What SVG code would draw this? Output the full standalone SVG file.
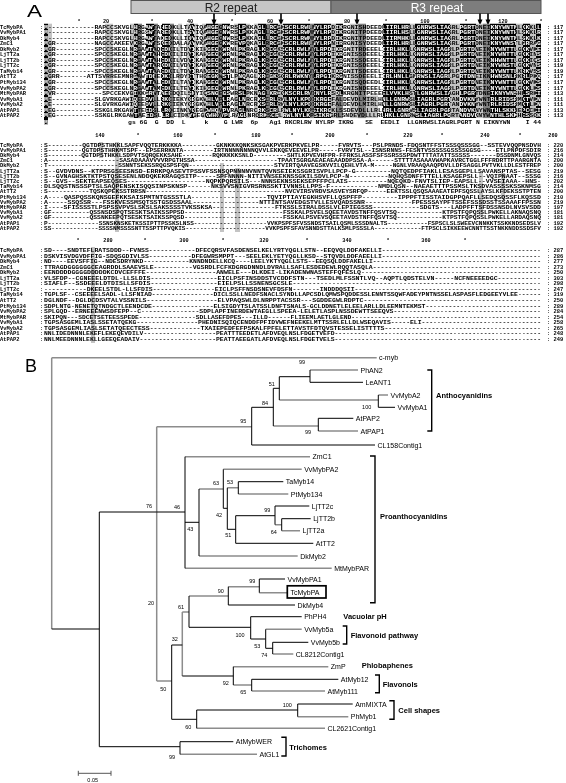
<svg xmlns="http://www.w3.org/2000/svg" xmlns:xlink="http://www.w3.org/1999/xlink" width="566" height="783" viewBox="0 0 566 783">
<style>
.nm{font-family:'Liberation Mono',monospace;font-weight:bold;font-size:5.4px;fill:#000}
.sq{font-family:'Liberation Mono',monospace;font-weight:bold;font-size:5.6px}
.sq2{font-family:'Liberation Mono',monospace;font-weight:bold;font-size:5.2px}
.ru{font-family:'Liberation Mono',monospace;font-weight:bold;font-size:5.2px;fill:#000;text-anchor:middle}
.kb{fill:#000}.dg{fill:#7f7f7f}.lg{fill:#c4c4c4}
.k{stroke:#000;fill:none;stroke-width:1}
.g{stroke:#8c8c8c;fill:none;stroke-width:1.5}
.br{stroke:#000;fill:none;stroke-width:1.4}
.lf{font-family:'Liberation Sans',Arial,sans-serif;font-size:7px;fill:#000}
.bs{font-family:'Liberation Sans',Arial,sans-serif;font-size:5.5px;fill:#000;text-anchor:middle}
.gp{font-family:'Liberation Sans',Arial,sans-serif;font-size:7.5px;font-weight:bold;fill:#000}
.pl{font-family:'Liberation Sans',Arial,sans-serif;fill:#000}
#all{filter:grayscale(100%)}
</style>
<defs>
<clipPath id="k1">
<rect x="44" y="23.7" width="4" height="100.5"/>
<rect x="134" y="23.7" width="4" height="94.4"/>
<rect x="146" y="23.7" width="8" height="94.4"/>
<rect x="162" y="23.7" width="8" height="94.4"/>
<rect x="190" y="23.7" width="4" height="94.4"/>
<rect x="206" y="23.7" width="12" height="94.4"/>
<rect x="222" y="23.7" width="8" height="94.4"/>
<rect x="238" y="23.7" width="8" height="94.4"/>
<rect x="258" y="23.7" width="8" height="94.4"/>
<rect x="270" y="23.7" width="8" height="94.4"/>
<rect x="283" y="23.7" width="27" height="94.4"/>
<rect x="314" y="23.7" width="17" height="94.4"/>
<rect x="336" y="23.7" width="7" height="72"/>
<rect x="383" y="23.7" width="27" height="94.4"/>
<rect x="415" y="23.7" width="35" height="94.4"/>
<rect x="460" y="23.7" width="16" height="94.4"/>
<rect x="490" y="23.7" width="26" height="94.4"/>
<rect x="523" y="23.7" width="7" height="94.4"/>
<rect x="536" y="23.7" width="5" height="94.4"/>
</clipPath>
<g id="s1" class="sq">
<text x="44" y="28.5" textLength="497" lengthAdjust="spacingAndGlyphs">M------------RAPCCSKVGLHRGAWTAHEDKLLTAYIQAHGEGNWRSLPKKAGLLRCGKSCRLRWLNYLRPDIKRGNISHDEEDLIIRLHRLLGNRWSLIAGRLPGRTDNEIKNYWNTNLKKKLL</text>
<text x="44" y="34.05" textLength="497" lengthAdjust="spacingAndGlyphs">M------------RAPCCSKVGLHRGSWTAREDKLLTSYIQAHGEGNWRSLPKKAGLLRCGKSCRLRWMNYLRPDIKRGNITPDEEDLIIRLHSLLGNRWSLIAGRLPGRTDNEIKNYWNTHLSKKLR</text>
<text x="44" y="39.6" textLength="497" lengthAdjust="spacingAndGlyphs">M------------RAPCCSKVGLHRGAWTAQEDKLLIDYIQAHGEGNWRSLPKKAGLLRCGKSCRLRWMNYLRPDIKRGNITPDEEDLIIRMHKLLGNRWSLIAGRLPGRTDNEIKNYWNTNLSKKLK</text>
<text x="44" y="45.15" textLength="497" lengthAdjust="spacingAndGlyphs">MGR----------NAGCCAKEEVKRGAWTSKEDDALAAYVKAHGEGKWREVPQKAGLRRCGKSCRLRWLNYLRPNIRRGNISYDEEDLIIRLHRLLGNRWSLIAGRLPGRTDNEIKNYWNSTLGRRAG</text>
<text x="44" y="50.7" textLength="497" lengthAdjust="spacingAndGlyphs">MGR----------SPCCSKEGLNRGAWTAQEDKILTDYIKIHGEGKWRNLPKRAGLKRCGKSCRLRWLNYLRPDIKRGNITRDEEELIIRLHKLLGNRWSLIAGRLPGRTDNEIKNYWNTTLGKKVKE</text>
<text x="44" y="56.25" textLength="497" lengthAdjust="spacingAndGlyphs">MGR----------SPCCSKEGLNRGAWTAHEDKILIDYIKAHGEGKWRNLPKRAGLKRCGKSCRLRWLNYLRPDIKRGNISSDEEELIIRLHKLLGNRWSLIAGRLPGRTDNEIKNYWNTTLGKKINS</text>
<text x="44" y="61.8" textLength="497" lengthAdjust="spacingAndGlyphs">MGR----------SPCCSKEGLNRGAWTAHEDKILVDYIKAHGEGKWRNLPKRAGLKRCGKSCRLRWLNYLRPDIKRGNISSDEEELIIRLHKLLGNRWSLIAGRLPGRTDNEIKNHWNTTLGKKIQS</text>
<text x="44" y="67.35" textLength="497" lengthAdjust="spacingAndGlyphs">MGR----------SPCCSKEGLNRGAWTARKDKILVDYIKAHGEGKWRNLPKRAGLKRCGKSCRLRWLNYLRPDIKRGNISSDEEELIIRLHKLLGNRWSLIAGRLPGRTDNEIKNYWNSTLGKKVNS</text>
<text x="44" y="72.9" textLength="497" lengthAdjust="spacingAndGlyphs">MGR----------SPCCSKEGLNRGAWTAAEDKILTDYIRANGEGKWRNLPKRAGLKRCGKSCRLRWLNYLRPDIKRGNITSDEEELIIRLHKLLGNRWSLIAGRLPGRTDNEIKNYWNTTLKRKVSS</text>
<text x="44" y="78.45" textLength="497" lengthAdjust="spacingAndGlyphs">MGRR-------ATTSVRREEMNRGAWTDHEDKILRDYITTHGEGKWSTLPNQAGLKRCGKSCRLRWKNYLRPGIKRGNISSDEEELIIRLHNLLGNRWSLIAGRLPGRTDNEIKNHWNSNLRKRLPKQ</text>
<text x="44" y="84" textLength="497" lengthAdjust="spacingAndGlyphs">MGR----------SPCCSKEGLNRGAWTALEDKILTAYIKAHGEGKWRNLPKRAGLKRCGKSCRLRWLNYLRPDIKRGNISQDEEDLIIRLHKLLGNRWSLIAGRLPGRTDNEIKNYWNTTLGKKVKS</text>
<text x="44" y="89.55" textLength="497" lengthAdjust="spacingAndGlyphs">MGR----------SPCCSKEGLNRGAWTAMEDKILTEYIKIHGEGKWRNLPKRAGLKRCGKSCRLRWLNYLRPDIKRGNISNDEEELIIRLHKLLGNRWSLIAGRLPGRTDNEIKNYWNTTLGKKLKS</text>
<text x="44" y="95.1" textLength="497" lengthAdjust="spacingAndGlyphs">MVR------------SPCCEKVGIKKGRWTAEEDQILSNYIQSNGEGSWRSLPKNAGLKRCGKSCRLRWINYLRSDLKRGNITPEEEELVVKLHSTLGNRWSLIAGHLPGRTDNEIKNYWNSHLSRKI</text>
<text x="44" y="100.65" textLength="497" lengthAdjust="spacingAndGlyphs">ME-----------SLGVRKGAWIQEEDVLLRKCIEKYGEGKWHLVPLRAGLNRCRKSCRLRWLNYLKPDIKRGEFALDEVDLMIRLHNLLGNRWSLIAGRLPGRTANDVKNYWNTRLRIDSRMKTVKN</text>
<text x="44" y="106.2" textLength="497" lengthAdjust="spacingAndGlyphs">ME-----------SLGVRKGAWIQEEDVLLRKCIEKYGEGKWHLVPLRAGLNRCRKSCRLRWLNYLKPDIKRGEFALDEVDLMIRLHNLLGNRWSLIAGRLPGRTANDVKNYWNTRLRIDSRMKTLKN</text>
<text x="44" y="111.75" textLength="497" lengthAdjust="spacingAndGlyphs">MEG----------SSKGLRKGAWTTEEDSLLRQCINKYGEGKWHQVPVRAGLNRCRKSCRLRWLNYLKPSIKRGKLSSDEVDLLLRLHRLLGNRWSLIAGRLPGRTANDVKNYWNTHLSKKHEPCCKI</text>
<text x="44" y="117.3" textLength="497" lengthAdjust="spacingAndGlyphs">MEG----------SSKGLRKGAWTAEEDSLLRLCIDKYGEGKWHQVPLRAGLNRCRKSCRLRWLNYLKPSIKRGRLSNDEVDLLLRLHKLLGNRWSLIAGRLPGRTANDVKNYWNTHLSKKHESSCK</text>
<text x="44" y="123.5" textLength="497" lengthAdjust="spacingAndGlyphs" xml:space="preserve">M                     gs 6G  G  DD  L     k    G LWR  6p   Ag1 RKCRLRW NYLRP IKRG   SE  EEDLI  LLGNRWSLIAGRLPGRT N EIKNYWN    I 44</text>
</g>
</defs>

<g id="all">
<rect x="0" y="0" width="566" height="783" fill="#fff"/>
<g id="panelA">
<text class="pl" x="27" y="17" font-size="17" textLength="15" lengthAdjust="spacingAndGlyphs">A</text>
<g id="r2box"><rect x="131" y="0.5" width="200" height="13" fill="#c6c6c6" stroke="#555" stroke-width="1"/><text class="pl" x="231" y="11.5" font-size="12" style="fill:#222" text-anchor="middle">R2 repeat</text></g>
<g id="r3box"><rect x="331" y="0.5" width="210" height="13" fill="#7d7d7d" stroke="#555" stroke-width="1"/><text class="pl" x="437" y="11.5" font-size="12" style="fill:#fff" text-anchor="middle">R3 repeat</text></g>
<g id="arrows" fill="#000" stroke="#000">
<path d="M214 13.5V20M281 13.5V20M357 13.5V20M480 13.5V20M488 13.5V20" stroke-width="1.6"/>
<path d="M211.5 19.5H216.5L214 25.5ZM278.5 19.5H283.5L281 25.5ZM354.5 19.5H359.5L357 25.5ZM477.5 19.5H482.5L480 25.5ZM485.5 19.5H490.5L488 25.5Z" stroke="none"/>
</g>

<g id="block1">
<g class="ru">
<text x="79" y="22.8">*</text><text x="106" y="22.8">20</text><text x="152" y="22.8">*</text><text x="190" y="22.8">40</text><text x="232" y="22.8">*</text><text x="270" y="22.8">60</text><text x="309" y="22.8">*</text><text x="347" y="22.8">80</text><text x="386" y="22.8">*</text><text x="425" y="22.8">100</text><text x="466" y="22.8">*</text><text x="503" y="22.8">120</text><text x="541" y="22.8">*</text>
</g>
<g id="shade1">
<rect class="lg" x="48" y="23.7" width="4" height="94.4"/>
<rect class="lg" x="105" y="23.7" width="8" height="66"/>
<rect class="lg" x="130" y="23.7" width="4" height="94.4"/>
<rect class="dg" x="138" y="23.7" width="4" height="94.4"/>
<rect class="dg" x="154" y="23.7" width="4" height="94.4"/>
<rect class="dg" x="170" y="23.7" width="4" height="94.4"/>
<rect class="lg" x="178" y="23.7" width="4" height="94.4"/>
<rect class="lg" x="186" y="23.7" width="4" height="94.4"/>
<rect class="lg" x="194" y="23.7" width="4" height="94.4"/>
<rect class="lg" x="202" y="23.7" width="4" height="94.4"/>
<rect class="dg" x="218" y="23.7" width="4" height="94.4"/>
<rect class="lg" x="234" y="23.7" width="4" height="94.4"/>
<rect class="lg" x="246" y="23.7" width="4" height="94.4"/>
<rect class="lg" x="254" y="23.7" width="4" height="94.4"/>
<rect class="dg" x="266" y="23.7" width="4" height="94.4"/>
<rect class="lg" x="278" y="23.7" width="5" height="94.4"/>
<rect class="dg" x="310" y="23.7" width="4" height="94.4"/>
<rect class="lg" x="331" y="23.7" width="5" height="94.4"/>
<rect class="dg" x="336" y="95.5" width="7" height="22.6"/>
<rect class="lg" x="350" y="23.7" width="8" height="94.4"/>
<rect class="dg" x="358" y="23.7" width="8" height="94.4"/>
<rect class="lg" x="366" y="95.5" width="12" height="22.6"/>
<rect class="lg" x="410" y="23.7" width="5" height="94.4"/>
<rect class="lg" x="450" y="23.7" width="10" height="94.4"/>
<rect class="lg" x="476" y="23.7" width="7" height="94.4"/>
<rect class="dg" x="483" y="23.7" width="7" height="94.4"/>
<rect class="lg" x="516" y="23.7" width="7" height="94.4"/>
<rect class="lg" x="530" y="23.7" width="6" height="94.4"/>
<rect x="40" y="20" width="505" height="106" fill="#000" clip-path="url(#k1)"/>
</g>
<use xlink:href="#s1" href="#s1" fill="#000"/>
<use xlink:href="#s1" href="#s1" fill="#fff" clip-path="url(#k1)"/>
<g class="nm">
<text x="0" y="28.5">TcMybPA<tspan x="40">:</tspan><tspan x="547">: 117</tspan></text>
<text x="0" y="34.05">VvMybPA1<tspan x="40">:</tspan><tspan x="547">: 117</tspan></text>
<text x="0" y="39.6">DkMyb4<tspan x="40">:</tspan><tspan x="547">: 117</tspan></text>
<text x="0" y="45.15">ZmC1<tspan x="40">:</tspan><tspan x="547">: 117</tspan></text>
<text x="0" y="50.7">DkMyb2<tspan x="40">:</tspan><tspan x="547">: 117</tspan></text>
<text x="0" y="56.25">LjTT2a<tspan x="40">:</tspan><tspan x="547">: 117</tspan></text>
<text x="0" y="61.8">LjTT2b<tspan x="40">:</tspan><tspan x="547">: 117</tspan></text>
<text x="0" y="67.35">LjTT2c<tspan x="40">:</tspan><tspan x="547">: 119</tspan></text>
<text x="0" y="72.9">TaMyb14<tspan x="40">:</tspan><tspan x="547">: 119</tspan></text>
<text x="0" y="78.45">AtTT2<tspan x="40">:</tspan><tspan x="547">: 117</tspan></text>
<text x="0" y="84">PtMyb134<tspan x="40">:</tspan><tspan x="547">: 117</tspan></text>
<text x="0" y="89.55">VvMybPA2<tspan x="40">:</tspan><tspan x="547">: 117</tspan></text>
<text x="0" y="95.1">MtMybPAR<tspan x="40">:</tspan><tspan x="547">: 113</tspan></text>
<text x="0" y="100.65">VvMybA1<tspan x="40">:</tspan><tspan x="547">: 111</tspan></text>
<text x="0" y="106.2">VvMybA2<tspan x="40">:</tspan><tspan x="547">: 111</tspan></text>
<text x="0" y="111.75">AtPAP1<tspan x="40">:</tspan><tspan x="547">: 113</tspan></text>
<text x="0" y="117.3">AtPAP2<tspan x="40">:</tspan><tspan x="547">: 113</tspan></text>
</g>
</g>

<g id="block2">
<g class="ru">
<text x="100" y="136.5">140</text><text x="138" y="136.5">*</text><text x="178" y="136.5">160</text><text x="215" y="136.5">*</text><text x="256" y="136.5">180</text><text x="292" y="136.5">*</text><text x="330" y="136.5">200</text><text x="367" y="136.5">*</text><text x="408" y="136.5">220</text><text x="442" y="136.5">*</text><text x="485" y="136.5">240</text><text x="520" y="136.5">*</text><text x="553" y="136.5">260</text>
</g>
<g id="shade2">
<rect class="lg" x="99" y="142" width="4" height="16"/>
<rect class="lg" x="115" y="142" width="4" height="90"/>
<rect class="lg" x="220" y="163" width="4" height="69"/>
<rect class="lg" x="235" y="168" width="5" height="64"/>
<rect class="lg" x="479" y="173" width="4" height="42"/>
<rect class="lg" x="501" y="173" width="4" height="26"/>
</g>
<g class="sq2" fill="#000">
<text x="44" y="146.5" textLength="497" lengthAdjust="spacingAndGlyphs">S---------QGTDPSTHKKLSAPFVQQTERKKKKA---------GKNKKKQNKSKSGAKPVERKPKVELPR-----FVRVTS---PSLPRNDS-FDQSNTFFSTSSSQSSSGG--SSTEVVQQPNSDVH</text>
<text x="44" y="151.7" textLength="497" lengthAdjust="spacingAndGlyphs">S---------QGTDPSTHRKMTSPF--EPSERRKNTA--------IRTNNNNNNNNQVVLEKKQEVEEVELPR-----FVRVTSL--ISNSRNNS-FESNTVSSSSSGSSSSGGSG----ETLPNPDFSDIR</text>
<text x="44" y="156.9" textLength="497" lengthAdjust="spacingAndGlyphs">S---------QGTDPSTHKKLSDPVTSQRQEKKSAHE--------RQKKKKKSNLD---------SHTLKPVEVHFPR-FFRKSLASSFSFSSRSSSPDWTTTTATATTSSSSS-------DSSDNMLGNVQS</text>
<text x="44" y="162.1" textLength="497" lengthAdjust="spacingAndGlyphs">A-------------------SASADAAAVVVVRPGTHSSA----------------------TPAATSGRGAEAEAEAADDPSSA-A------STTTTASAAAVWAPKAVRCTGGLFFFRDRTTPAARGNTA</text>
<text x="44" y="167.3" textLength="497" lengthAdjust="spacingAndGlyphs">T-------------------SSNNTSEKSSRQGSPSFQN-----------------------STVIRTQAAVEGSKVVILQEHLVTA-M-----NGNLVRAAQAAQPDVLLDFSAGGLPVTVKLLDLESTFREP</text>
<text x="44" y="172.5" textLength="497" lengthAdjust="spacingAndGlyphs">S--GVDVDNS--KTPRSGSEESNSD-ERRKPQASEVTPSSVFSSNSQPNNNNVNNTQVNSEIEKSSGRISVPLLPCP-G---------NQTQEDPFIAKLLESASGEPLLSAVANSPTAS--SESG</text>
<text x="44" y="177.7" textLength="497" lengthAdjust="spacingAndGlyphs">S--GVNAGHSKTKTPSTQSESENLNDDQKEKRAGQSITP-----SPFNNNN-NITIVNSEEKNSSGKILSDVLPCP-N----------NQHQSDNFFTTELLKSAGEPSLL--VQIPNAAT--SSSG</text>
<text x="44" y="182.9" textLength="497" lengthAdjust="spacingAndGlyphs">S--GVS--SEKTEAPSEQSES--------------------NQPKPQRSILS---NNNSEKNSSEKSEPFFPCLAIS----------NQEQKD-FNVTSLIEP-EAPSLL--VVSEIAAA--HNS-</text>
<text x="44" y="188.1" textLength="497" lengthAdjust="spacingAndGlyphs">DLSQQSTNSSSPTSLSAQPENSKISQQSINPSKNSP------NKSVVSNIGVRSRNSSKTIVNNSLLPPS-F------------NMDLQSN--NAEAETTTPSSMSLTKSDVASSSSKSSKNMSG</text>
<text x="44" y="193.3" textLength="497" lengthAdjust="spacingAndGlyphs">S-----------TQSKQPEKSSTRRSN-------------------------------------NVCVIRSVRDVSASVEYSRFQP-----EEKTSSLQSQSAAAEATEPFSQSSLAYSLKFDEKSSTPTEN</text>
<text x="44" y="198.5" textLength="497" lengthAdjust="spacingAndGlyphs">A----QASPQSSKQNSGEFKKSAISPMTNTGSSSTLA-------------------TQVIPTIAYEGKHSVFLLQSPFFP---------IPPPFTISSTAIDGPPQAFLLSEDQSQSSFLKQSSD</text>
<text x="44" y="203.7" textLength="497" lengthAdjust="spacingAndGlyphs">A-----SSQSSR---FSSKVESSMSQTSSTGSDSSAAL-----------------NTTINTSAVEDGSTVLLESVQADSSNR------------FPESSSAYPFTSSEFSSSDSSTSSAAAFFPSSN</text>
<text x="44" y="208.9" textLength="497" lengthAdjust="spacingAndGlyphs">I----SFISSSSTLPSPSSVPVSLSKSLSAKSSSSTVKSSKSA----------------FTKSSLSIRALDSSLVLEPIEGSSS------------SDGTS---LADPFFTSFDSSNSDLNVSVSDD</text>
<text x="44" y="214.1" textLength="497" lengthAdjust="spacingAndGlyphs">GF----------QSSNSDSPQTSESKTSAIKSSPPSD--------------------------FSSKALPSVELSQEETAVDSTNFFQSVTSQ------------KTPSTFQPQSSLPWKELLAKNAQSNQ</text>
<text x="44" y="219.3" textLength="497" lengthAdjust="spacingAndGlyphs">GF----------QSSNKEEPQTSESKTSAIKSSPQSD--------------------------FSSKALPSVEVSQEETAVDSTNFFQSVTSQ------------KTPSTFQPQSSLPWKELLARDAQSNQ</text>
<text x="44" y="224.5" textLength="497" lengthAdjust="spacingAndGlyphs">P--------------SSNSKNSKETKSSIPTTPSSKSLNSS--------------------VVKPSPFSFVSSNDSTSAILQSMLSSSDNALTS-----------FSPSCLSLSWEEVCNNKKTSSKKNDSEDSLV</text>
<text x="44" y="229.7" textLength="497" lengthAdjust="spacingAndGlyphs">SS-------------SSSSNMSSSSNTTSSPTTPVQKIS----------------------VVKPSPFSFAVSNNDSTTALKSMLPSSSLA-------------FTPSCLSIKKEEWCNNTTSSTNKKNDDSSDSFV</text>
</g>
<g class="nm">
<text x="0" y="146.5">TcMybPA<tspan x="40">:</tspan><tspan x="547">: 220</tspan></text>
<text x="0" y="151.7">VvMybPA1<tspan x="40">:</tspan><tspan x="547">: 216</tspan></text>
<text x="0" y="156.9">DkMyb4<tspan x="40">:</tspan><tspan x="547">: 214</tspan></text>
<text x="0" y="162.1">ZmC1<tspan x="40">:</tspan><tspan x="547">: 200</tspan></text>
<text x="0" y="167.3">DkMyb2<tspan x="40">:</tspan><tspan x="547">: 200</tspan></text>
<text x="0" y="172.5">LjTT2a<tspan x="40">:</tspan><tspan x="547">: 219</tspan></text>
<text x="0" y="177.7">LjTT2b<tspan x="40">:</tspan><tspan x="547">: 216</tspan></text>
<text x="0" y="182.9">LjTT2c<tspan x="40">:</tspan><tspan x="547">: 202</tspan></text>
<text x="0" y="188.1">TaMyb14<tspan x="40">:</tspan><tspan x="547">: 214</tspan></text>
<text x="0" y="193.3">AtTT2<tspan x="40">:</tspan><tspan x="547">: 200</tspan></text>
<text x="0" y="198.5">PtMyb134<tspan x="40">:</tspan><tspan x="547">: 210</tspan></text>
<text x="0" y="203.7">VvMybPA2<tspan x="40">:</tspan><tspan x="547">: 219</tspan></text>
<text x="0" y="208.9">MtMybPAR<tspan x="40">:</tspan><tspan x="547">: 197</tspan></text>
<text x="0" y="214.1">VvMybA1<tspan x="40">:</tspan><tspan x="547">: 181</tspan></text>
<text x="0" y="219.3">VvMybA2<tspan x="40">:</tspan><tspan x="547">: 181</tspan></text>
<text x="0" y="224.5">AtPAP1<tspan x="40">:</tspan><tspan x="547">: 192</tspan></text>
<text x="0" y="229.7">AtPAP2<tspan x="40">:</tspan><tspan x="547">: 192</tspan></text>
</g>
</g>

<g id="block3">
<g class="ru">
<text x="78" y="242">*</text><text x="108" y="242">280</text><text x="145" y="242">*</text><text x="184" y="242">300</text><text x="223" y="242">*</text><text x="264" y="242">320</text><text x="307" y="242">*</text><text x="347" y="242">340</text><text x="388" y="242">*</text><text x="426" y="242">360</text><text x="465" y="242">*</text>
</g>
<g id="shade3">
<rect class="lg" x="91" y="247" width="4" height="96"/>
</g>
<g class="sq" fill="#000">
<text x="44" y="252" textLength="497" lengthAdjust="spacingAndGlyphs">SD----SNDTEFLRATSDDD--FVNSS------------DFECQRSVFASDENSELKELYRTYQGLLSTN--EEQVQLDDFAKELLI-----------------------------------------</text>
<text x="44" y="257.55" textLength="497" lengthAdjust="spacingAndGlyphs">DSKVISVDGVDFFIG-SDQSGDIVLSS-----------DFEGWRSMPPT---SEELEKLYETYQGLLKSD--STQVDLDDFAEELLI-----------------------------------------</text>
<text x="44" y="263.1" textLength="497" lengthAdjust="spacingAndGlyphs">ND----EEVSFFIG--NDESDRYNKD------------KNNDNDELLKCQ----LEELYKTYQGLLSTS--EEQSQLDDFAKELLI--------------------------------------------</text>
<text x="44" y="268.65" textLength="497" lengthAdjust="spacingAndGlyphs">TTRAGDGGGGGGCEAGRDDLSAAEVSLE----------VGSRDLFCFKDGRGDNNDLDVRALLSAFLESDEDEWLRQQTASQLA-------------------------------------------</text>
<text x="44" y="274.2" textLength="497" lengthAdjust="spacingAndGlyphs">EENDDDDGGGGDDDDDKCDVCEFFFE------------------ANWELE---DLKDEI-LIKADENWNASTEFFQFESLQ----------------------------------------------</text>
<text x="44" y="279.75" textLength="497" lengthAdjust="spacingAndGlyphs">VLSFDP--CGNEEELDTDL-LLSLDIS-----------------EICLPSFINSDDSTVCDDFSTN---TSEDLMLFSSNTLVQ--AQPTLQDSTELVN-----NCFNEEEEDGC-----------</text>
<text x="44" y="285.3" textLength="497" lengthAdjust="spacingAndGlyphs">SIAFLF--SSDEEELDTDISLLSFDIS-----------------EIELPSLLSSNENSGCSLE---------------------------------------------------------------</text>
<text x="44" y="290.85" textLength="497" lengthAdjust="spacingAndGlyphs">-----------DKEELSTDL-LLSFDIS----------------EICLPSFFNSDSNEVFDSFN-------INDDDQSII------------------------------------------------</text>
<text x="44" y="296.4" textLength="497" lengthAdjust="spacingAndGlyphs">TGPLSF--CSEEEELSADL-LLSFNIAD----------------DICLSSLLNEDFSNACLSYNDLLAPCSDLQMWSPQDDESSLENNTSSQWFADEYPNTNSSELASPASFLEDGEEYVLEE------</text>
<text x="44" y="301.95" textLength="497" lengthAdjust="spacingAndGlyphs">DGLNDF--DGLDCDSVTALVSSNILS------------------ELVPAQSWLDLNRPPTACSSR---SGDDEGWLRDPTC---------------------------------------------</text>
<text x="44" y="307.5" textLength="497" lengthAdjust="spacingAndGlyphs">SDPLNTG-NENETQTNDGCTLEENDCDE----------------ELSIGDYTSLATSSLDNFTSNALS-GCLDDNETLELEELARLLDLEEMNTEKMST------------------------------</text>
<text x="44" y="313.05" textLength="497" lengthAdjust="spacingAndGlyphs">SPLGQD--ERNEEENWSDFEPP--C---------------SDPLAPFINERDEWTAEGLLSPEEA-LELETLASPLNSSDEWTTSEEQVS--------------------------------------</text>
<text x="44" y="318.6" textLength="497" lengthAdjust="spacingAndGlyphs">SKIPQN---SDCETSETEESSPEDE---------------SDLLASEFDPES---ILLD------FLIEEMLAETLGLEND--------------------------------------------------</text>
<text x="44" y="324.15" textLength="497" lengthAdjust="spacingAndGlyphs">TGPSASGEMLIASLSSETATQEKG----------------PHEDNISQIQCENDDFPFIDVWEFNEEKELMTTSSRLELLDLWSEQAVIS-----ELI-------------------------------</text>
<text x="44" y="329.7" textLength="497" lengthAdjust="spacingAndGlyphs">TGPSASGEMLIASLSETATQEECTESS-------------TXAIEPEDFEFPSKALFPFELETTAVSTFDTQVSTESSELISTTTTS----------------------------------------</text>
<text x="44" y="335.25" textLength="497" lengthAdjust="spacingAndGlyphs">NNLIDEDNNNLEKEFLEKEQEVDILV-------------------PEATTTEEDETLAFDVEQLNSLFDGETVEFD------------------------------------------------------</text>
<text x="44" y="340.8" textLength="497" lengthAdjust="spacingAndGlyphs">NNLMEEDNNNLEKLLGEEQEADAIV--------------------PEATTAEEGATLAFDVEQLNSLFDGETVELS------------------------------------------------------</text>
</g>
<g class="nm">
<text x="0" y="252">TcMybPA<tspan x="40">:</tspan><tspan x="547">: 287</tspan></text>
<text x="0" y="257.55">VvMybPA1<tspan x="40">:</tspan><tspan x="547">: 286</tspan></text>
<text x="0" y="263.1">DkMyb4<tspan x="40">:</tspan><tspan x="547">: 277</tspan></text>
<text x="0" y="268.65">ZmC1<tspan x="40">:</tspan><tspan x="547">: 273</tspan></text>
<text x="0" y="274.2">DkMyb2<tspan x="40">:</tspan><tspan x="547">: 250</tspan></text>
<text x="0" y="279.75">LjTT2a<tspan x="40">:</tspan><tspan x="547">: 303</tspan></text>
<text x="0" y="285.3">LjTT2b<tspan x="40">:</tspan><tspan x="547">: 298</tspan></text>
<text x="0" y="290.85">LjTT2c<tspan x="40">:</tspan><tspan x="547">: 247</tspan></text>
<text x="0" y="296.4">TaMyb14<tspan x="40">:</tspan><tspan x="547">: 319</tspan></text>
<text x="0" y="301.95">AtTT2<tspan x="40">:</tspan><tspan x="547">: 250</tspan></text>
<text x="0" y="307.5">PtMyb134<tspan x="40">:</tspan><tspan x="547">: 289</tspan></text>
<text x="0" y="313.05">VvMybPA2<tspan x="40">:</tspan><tspan x="547">: 284</tspan></text>
<text x="0" y="318.6">MtMybPAR<tspan x="40">:</tspan><tspan x="547">: 254</tspan></text>
<text x="0" y="324.15">VvMybA1<tspan x="40">:</tspan><tspan x="547">: 258</tspan></text>
<text x="0" y="329.7">VvMybA2<tspan x="40">:</tspan><tspan x="547">: 265</tspan></text>
<text x="0" y="335.25">AtPAP1<tspan x="40">:</tspan><tspan x="547">: 248</tspan></text>
<text x="0" y="340.8">AtPAP2<tspan x="40">:</tspan><tspan x="547">: 249</tspan></text>
</g>
</g>
</g>

<g id="panelB">
<text class="pl" x="25" y="372" font-size="19" textLength="12" lengthAdjust="spacingAndGlyphs">B</text>
<g id="connectors">
<path class="g" d="M51.7 357.7V629M51.7 357.7H376.7M156.7 426.7V681M156.7 426.7H251.7M156.7 681H171.7M279.3 400H378.3M310 370H358M378.3 395H388M318.3 431H358M273.3 426H318.3M185 456.7H310M185 568.3H331.7M199 556H297.7M199 489H223.3M223.3 469.3H301.7M227.3 487.8H238.3M238.3 494H288.3M275 524.7H281.7M281.7 530.7H300M182.3 612V676M182.3 612H189M189 596H228.3M228.3 586.7H259.3M259.3 592.7H287.3M265.7 629.3H301.7M272.7 654H293.3M233.3 685H251.7M233.3 666.7H328.3M251.7 691H325M196.7 728.3H325M297.7 716.7H348.3M180 754.3H257"/>
<path class="k" d="M51.7 629H99.3M99.3 512V746.7M99.3 512H156.7M99.3 746.7H180M251.7 407.3V445M251.7 407.3H273.3M251.7 445H375M273.3 388.3V426M273.3 388.3H279.3M279.3 376.7V400M279.3 376.7H310M310 370V382.3M310 382.3H363M378.3 395V407.3M378.3 407.3H395M318.3 418.3V431M318.3 418.3H353.3M156.7 512H185M185 456.7V568.3M185 522.3H199M199 489V556M223.3 469.3V508.3M223.3 508.3H227.3M227.3 487.8V529.3M227.3 529.3H235.7M238.3 481.7V494M238.3 481.7H283.3M235.7 515.7V543.3M235.7 515.7H275M235.7 543.3H313.3M275 506V524.7M275 506H309.3M281.7 518.7V530.7M281.7 518.7H310.7M171.7 645V719.3M171.7 645H182.3M171.7 719.3H196.7M182.3 676H233.3M189 596V627.3M189 627.3H250.7M228.3 586.7V605M228.3 605H295M259.3 579V592.7M259.3 579H285M250.7 616.7V639M250.7 616.7H301.7M250.7 639H265.7M265.7 629.3V648.3M265.7 648.3H272.7M272.7 642.3V654M272.7 642.3H308.3M233.3 666.7V685M251.7 679.3V691M251.7 679.3H338.3M196.7 710V728.3M196.7 710H297.7M297.7 704V716.7M297.7 704H352.7M180 741.7V754.3M180 741.7H233.3"/>
<path class="br" d="M427.3 370H431.7V431H427.3M370 456H375V602.7H370M342.7 626H346.7V644H342.7M375 675H379.3V692.7H375M389.3 700.7H394V719.3H389.3M281.3 737.3H286V756H281.3"/>
<path d="M78.3 773.3H111M78.3 770.8V775.8M111 770.8V775.8" stroke="#555" stroke-width="1" fill="none"/>
</g>
<g id="leaves" class="lf">
<g id="n-cmyb"><text x="379" y="360.2">c-myb</text></g>
<g id="n-PhAN2"><text x="360.5" y="372.5">PhAN2</text></g>
<g id="n-LeANT1"><text x="365.5" y="384.8">LeANT1</text></g>
<g id="n-VvMybA2"><text x="390.5" y="397.5">VvMybA2</text></g>
<g id="n-VvMybA1"><text x="397.5" y="409.8">VvMybA1</text></g>
<g id="n-AtPAP2"><text x="355.8" y="420.8">AtPAP2</text></g>
<g id="n-AtPAP1"><text x="360.5" y="433.5">AtPAP1</text></g>
<g id="n-CL158"><text x="377.5" y="447.5">CL158Contig1</text></g>
<g id="n-ZmC1"><text x="312.5" y="459.2">ZmC1</text></g>
<g id="n-VvMybPA2"><text x="304.2" y="471.8">VvMybPA2</text></g>
<g id="n-TaMyb14"><text x="285.8" y="484.2">TaMyb14</text></g>
<g id="n-PtMyb134"><text x="290.8" y="496.5">PtMyb134</text></g>
<g id="n-LjTT2c"><text x="311.8" y="508.5">LjTT2c</text></g>
<g id="n-LjTT2b"><text x="313.2" y="521.2">LjTT2b</text></g>
<g id="n-LjTT2a"><text x="302.5" y="533.2">LjTT2a</text></g>
<g id="n-AtTT2"><text x="315.8" y="545.8">AtTT2</text></g>
<g id="n-DkMyb2"><text x="300.2" y="558.5">DkMyb2</text></g>
<g id="n-MtMybPAR"><text x="334.2" y="570.8">MtMybPAR</text></g>
<g id="n-VvMybPA1"><text x="287.5" y="581.5">VvMybPA1</text></g>
<g id="n-TcMybPA"><rect x="287.3" y="585.8" width="38.7" height="12.2" fill="none" stroke="#000" stroke-width="1.7"/><text x="290.5" y="595.2">TcMybPA</text></g>
<g id="n-DkMyb4"><text x="297.5" y="607.5">DkMyb4</text></g>
<g id="n-PhPH4"><text x="304.2" y="619.2">PhPH4</text></g>
<g id="n-VvMyb5a"><text x="304.2" y="631.8">VvMyb5a</text></g>
<g id="n-VvMyb5b"><text x="310.8" y="644.8">VvMyb5b</text></g>
<g id="n-CL8212"><text x="295.8" y="656.5">CL8212Contig1</text></g>
<g id="n-ZmP"><text x="330.8" y="669.2">ZmP</text></g>
<g id="n-AtMyb12"><text x="340.8" y="681.8">AtMyb12</text></g>
<g id="n-AtMyb111"><text x="327.5" y="693.5">AtMyb111</text></g>
<g id="n-AmMIXTA"><text x="355.2" y="706.5">AmMIXTA</text></g>
<g id="n-PhMyb1"><text x="350.8" y="719.2">PhMyb1</text></g>
<g id="n-CL2621"><text x="327.5" y="730.8">CL2621Contig1</text></g>
<g id="n-AtMybWER"><text x="235.8" y="744.2">AtMybWER</text></g>
<g id="n-AtGL1"><text x="259.5" y="756.8">AtGL1</text></g>
</g>
<g id="bootstrap" class="bs">
<text x="302" y="364">99</text><text x="271.7" y="386">51</text><text x="366.7" y="409.3">100</text><text x="265" y="404.7">84</text><text x="243.3" y="422.7">95</text><text x="308" y="434">99</text>
<text x="216" y="485.3">63</text><text x="230" y="484.3">53</text><text x="149" y="507.7">76</text><text x="177" y="508.7">46</text><text x="219" y="517.3">42</text><text x="190.3" y="530.7">43</text><text x="228.3" y="537.3">51</text><text x="267.3" y="512.3">99</text><text x="273.7" y="533.7">64</text>
<text x="252.3" y="583">99</text><text x="220.7" y="592.7">90</text><text x="151" y="605.3">20</text><text x="181" y="608.7">61</text><text x="240" y="637">100</text><text x="174.7" y="641">32</text><text x="257.3" y="647.7">53</text><text x="264.3" y="657">74</text>
<text x="225.7" y="685.3">92</text><text x="163.3" y="691">50</text><text x="243.3" y="694">65</text><text x="287.3" y="707">100</text><text x="188.3" y="728.7">60</text><text x="172" y="759">99</text>
</g>
<g id="groups" class="gp">
<text x="436" y="398">Anthocyanidins</text>
<text x="380" y="518.5">Proanthocyanidins</text>
<text x="343.3" y="618.5">Vacuolar pH</text>
<text x="350.7" y="638">Flavonoid pathway</text>
<text x="361.7" y="668">Phlobaphenes</text>
<text x="382.7" y="687">Flavonols</text>
<text x="398.3" y="713">Cell shapes</text>
<text x="289.3" y="750">Trichomes</text>
</g>
<text class="bs" x="92.7" y="782">0.05</text>
</g>
</g>
</svg>
